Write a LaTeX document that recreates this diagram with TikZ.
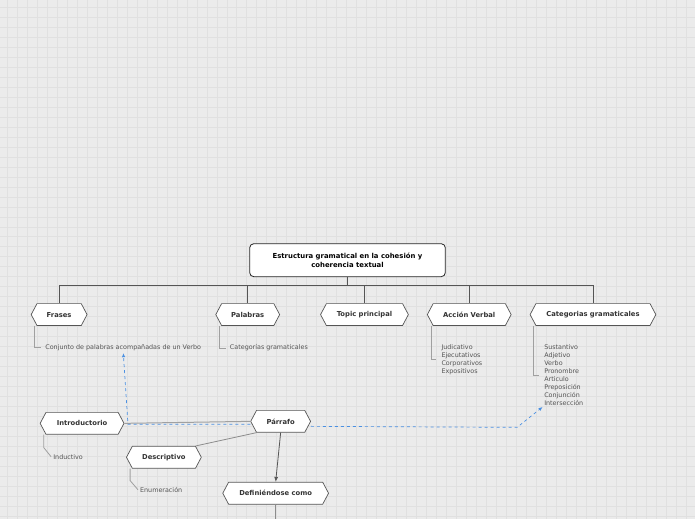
\documentclass[tikz,border=0pt]{standalone}
\usepackage{fontspec}
\setmainfont{DejaVu Sans}
\usetikzlibrary{arrows.meta,shapes.symbols}
\definecolor{paper}{HTML}{EBEBEB}
\definecolor{gridln}{HTML}{E0E0E0}
\definecolor{edge}{HTML}{555555}
\definecolor{twig}{HTML}{A0A0A0}
\definecolor{txt}{HTML}{333333}
\definecolor{txtsub}{HTML}{555555}
\definecolor{relblue}{HTML}{4A90E2}

\begin{document}
\begin{tikzpicture}[x=1pt,y=-1pt,
    hexa/.style={signal,signal to=west and east,signal pointer angle=124,
      draw=edge,fill=white,line width=0.7pt,minimum height=22pt,
      inner xsep=2pt,inner ysep=0pt,text=txt,
      font=\bfseries\fontsize{6.8}{8}\selectfont},
    rootbox/.style={draw=black!85,fill=white,rounded corners=4pt,line width=0.8pt,
      minimum width=196pt,minimum height=33pt,align=center,text=black,
      font=\bfseries\fontsize{6.9}{9}\selectfont},
    note/.style={anchor=north west,align=left,inner sep=0pt,text=txtsub,
      font=\fontsize{6.4}{8}\selectfont},
    branch/.style={draw=edge,line width=0.9pt},
    twigln/.style={draw=twig,line width=0.8pt},
    rel/.style={draw=relblue,dashed,line width=0.7pt,-{Latex[length=4pt,width=3.5pt]},
      shorten >=2pt},
  ]
    % background grid
    \fill[paper] (0,0) rectangle (696,520);
    \foreach \g in {7,17,...,697} \draw[gridln,line width=0.5pt] (\g,0) -- (\g,520);
    \foreach \g in {7,17,...,517} \draw[gridln,line width=0.5pt] (0,\g) -- (696,\g);
    \useasboundingbox (0,0) rectangle (696,520);

    % root and first level
    \node[rootbox](root) at (348,260.5)
      {Estructura gramatical en la cohesión y\\coherencia textual};
    \coordinate (bus) at (348,286);
    \node[hexa,minimum width=56pt](frases) at (59,315) {Frases};
    \node[hexa,minimum width=64pt](palabras) at (248,315) {Palabras};
    \node[hexa,minimum width=88pt](topic) at (365,315) {Topic principal};
    \node[hexa,minimum width=84pt](accion) at (470,315) {Acción Verbal};
    \node[hexa,minimum width=126pt](categ) at (594,315) {Categorias gramaticales};
    \draw[branch](root)--(bus);
    \foreach \n in {frases,palabras,topic,accion,categ}
      \draw[branch](bus)-|(\n.north);

    % notes of first level
    \node[note](frasesnote) at (45,345) {Conjunto de palabras acompañadas de un Verbo};
    \node[note](palnote) at (230,345) {Categorías gramaticales};
    \node[note](accnote) at (442,345)
      {Judicativo\\Ejecutativos\\Corporativos\\Expositivos};
    \node[note](catnote) at (545,345)
      {Sustantivo\\Adjetivo\\Verbo\\Pronombre\\Articulo\\Preposición\\Conjunción\\Intersección};
    \draw[twigln]([xshift=-2pt]frases.south west)|-([xshift=-4pt]frasesnote.west);
    \draw[twigln]([xshift=-2pt]palabras.south west)|-([xshift=-4pt]palnote.west);
    \draw[twigln]([xshift=-2pt]accion.south west)|-([xshift=-5pt]accnote.west);
    \draw[twigln]([xshift=-2pt]categ.south west)|-([xshift=-5pt]catnote.west);

    % Párrafo group
    \node[hexa,minimum width=60pt](parrafo) at (281,422) {Párrafo};
    \node[hexa,minimum width=84pt](intro) at (82,424) {Introductorio};
    \node[hexa,minimum width=75pt](descr) at (164,458) {Descriptivo};
    \node[hexa,minimum width=106pt](defin) at (276,494) {Definiéndose como};
    \node[note,anchor=west](induct) at (53,457.5) {Inductivo};
    \node[note,anchor=west](enum) at (140,490.5) {Enumeración};
    \coordinate (more) at (276,520);
    \draw[twigln,line width=1pt](parrafo.west)--(intro.east);
    \draw[twigln,draw=black!45](parrafo.south west)--(descr.north east);
    \draw[branch,line width=0.8pt,-{Latex[length=5pt,width=4pt]}](parrafo.south)--(defin.north);
    \draw[twigln,draw=black!45](defin.south)--(more);
    \draw[twigln]([xshift=-2pt]intro.south west)--++(0,13)--([xshift=-2pt]induct.west);
    \draw[twigln]([xshift=-2pt]descr.south west)--++(0,12)--([xshift=-2pt]enum.west);

    % relations
    \coordinate (bendA) at (128,425);
    \coordinate (bendB) at (518,428);
    \draw[rel]([yshift=-3pt]parrafo.west)--(bendA)--(frasesnote.south);
    \draw[rel]([yshift=-5pt]parrafo.east)--(bendB)--(catnote.south west);
\end{tikzpicture}
\end{document}
